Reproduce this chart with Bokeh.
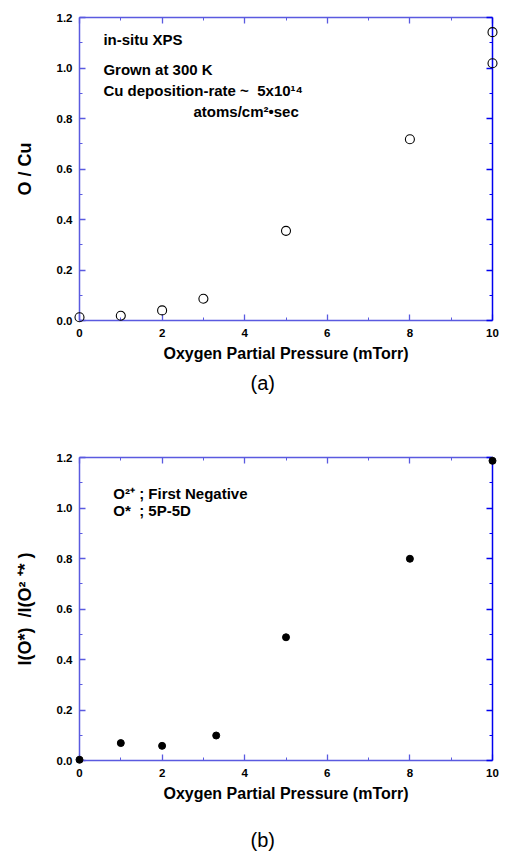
from bokeh.plotting import figure
from bokeh.models import Range1d, LinearAxis, FixedTicker, Label, Title
from bokeh.layouts import column
from bokeh.embed import file_html
from bokeh.resources import INLINE

# ---- data ----
pressure_a = [0, 1, 2, 3, 5, 8, 10, 10]
o_cu_ratio = [0.013, 0.019, 0.04, 0.086, 0.355, 0.718, 1.142, 1.019]

pressure_b = [0, 1, 2, 3.31, 5, 8, 10]
intensity_ratio = [0.003, 0.069, 0.058, 0.099, 0.488, 0.799, 1.187]

x_ticks = [0, 2, 4, 6, 8, 10]
x_minor_ticks = [1, 3, 5, 7, 9]
x_tick_labels = ["0", "2", "4", "6", "8", "10"]
y_ticks = [0.0, 0.2, 0.4, 0.6, 0.8, 1.0, 1.2]
y_minor_ticks = [0.1, 0.3, 0.5, 0.7, 0.9, 1.1]
y_tick_labels = ["0.0", "0.2", "0.4", "0.6", "0.8", "1.0", "1.2"]

FONT = "Liberation Sans"
AX_LIGHT = "#5a5ae0"
AX_DARK = "#0000f0"
NB = "\u00a0"


def style_axis(ax, color, labels, label_texts):
    ax.axis_line_color = color
    ax.axis_line_width = 1.5
    ax.major_tick_line_color = color
    ax.minor_tick_line_color = color
    ax.major_tick_line_width = 1.3
    ax.minor_tick_line_width = 1.0
    ax.major_tick_in = 6
    ax.major_tick_out = 0
    ax.minor_tick_in = 3
    ax.minor_tick_out = 0
    ax.major_label_text_font = FONT
    ax.major_label_text_font_style = "bold"
    ax.major_label_text_font_size = "11.5px"
    ax.major_label_text_color = "black"
    ticks = ax.ticker.ticks
    if labels:
        ax.major_label_overrides = {t: l for t, l in zip(ticks, label_texts)}
    else:
        ax.major_label_overrides = {t: "" for t in ticks}
        ax.major_label_standoff = 0


def make_panel(height, bottom_border, xs, ys, filled, ylabel, caption, cap_standoff):
    p = figure(width=508, height=height, output_backend="svg", toolbar_location=None,
               x_range=Range1d(0, 10), y_range=Range1d(0, 1.2),
               min_border_left=79, min_border_right=16, min_border_top=17,
               min_border_bottom=bottom_border, x_axis_type=None, y_axis_type=None)
    p.frame_width = 413
    p.frame_height = 303
    p.xgrid.visible = False
    p.ygrid.visible = False
    p.outline_line_color = None
    p.background_fill_color = "white"
    p.border_fill_color = "white"

    xb = LinearAxis(ticker=FixedTicker(ticks=x_ticks, minor_ticks=x_minor_ticks))
    style_axis(xb, AX_LIGHT, True, x_tick_labels)
    xb.major_label_standoff = 8
    xb.axis_label = "Oxygen Partial Pressure (mTorr)"
    xb.axis_label_text_font = FONT
    xb.axis_label_text_font_style = "bold"
    xb.axis_label_text_font_size = "16px"
    xb.axis_label_text_color = "black"
    xb.axis_label_standoff = 5
    p.add_layout(xb, "below")

    p.add_layout(Title(text=caption, align="left", offset=171, standoff=cap_standoff,
                       text_font=FONT, text_font_style="normal",
                       text_font_size="20px", text_color="black"), "below")

    yl = LinearAxis(ticker=FixedTicker(ticks=y_ticks, minor_ticks=y_minor_ticks))
    style_axis(yl, AX_LIGHT, True, y_tick_labels)
    yl.major_label_standoff = 7
    yl.axis_label = ylabel
    yl.axis_label_text_font = FONT
    yl.axis_label_text_font_style = "bold"
    yl.axis_label_text_font_size = "18px"
    yl.axis_label_text_color = "black"
    yl.axis_label_standoff = 19
    p.add_layout(yl, "left")

    xa = LinearAxis(ticker=FixedTicker(ticks=x_ticks, minor_ticks=x_minor_ticks))
    style_axis(xa, AX_LIGHT, False, None)
    p.add_layout(xa, "above")

    yr = LinearAxis(ticker=FixedTicker(ticks=y_ticks, minor_ticks=y_minor_ticks))
    style_axis(yr, AX_DARK, False, None)
    p.add_layout(yr, "right")

    if filled:
        r = p.scatter(xs, ys, marker="circle", size=7, fill_color="black", line_color="black")
    else:
        r = p.scatter(xs, ys, marker="circle", size=9, fill_color=None,
                      line_color="black", line_width=1.1)
    r.level = "overlay"
    return p


def add_text(p, x, y, text, size="15px"):
    p.add_layout(Label(x=x, y=y, text=text, text_font=FONT, text_font_style="bold",
                       text_font_size=size, text_baseline="middle", text_align="left",
                       text_color="black"))


p1 = make_panel(440, 120, pressure_a, o_cu_ratio, False, "O / Cu", "(a)", 10)
add_text(p1, 0.58, 1.113, "in-situ XPS")
add_text(p1, 0.58, 0.994, "Grown at 300 K")
add_text(p1, 0.58, 0.911, "Cu deposition-rate ~" + NB + NB + "5x10¹⁴")
add_text(p1, 2.76, 0.828, "atoms/cm²•sec")

p2 = make_panel(415, 95, pressure_b, intensity_ratio, True,
                "I(O*)" + NB + NB + "/I(O²" + NB + "⁺*" + NB + ")", "(b)", 45)
add_text(p2, 0.82, 1.057, "O²⁺ ; First Negative", size="15px")
add_text(p2, 0.82, 0.990, "O*" + NB + NB + "; 5P-5D", size="15px")

layout = column(p1, p2, spacing=0)
open("out.html", "w").write(file_html(layout, INLINE))
